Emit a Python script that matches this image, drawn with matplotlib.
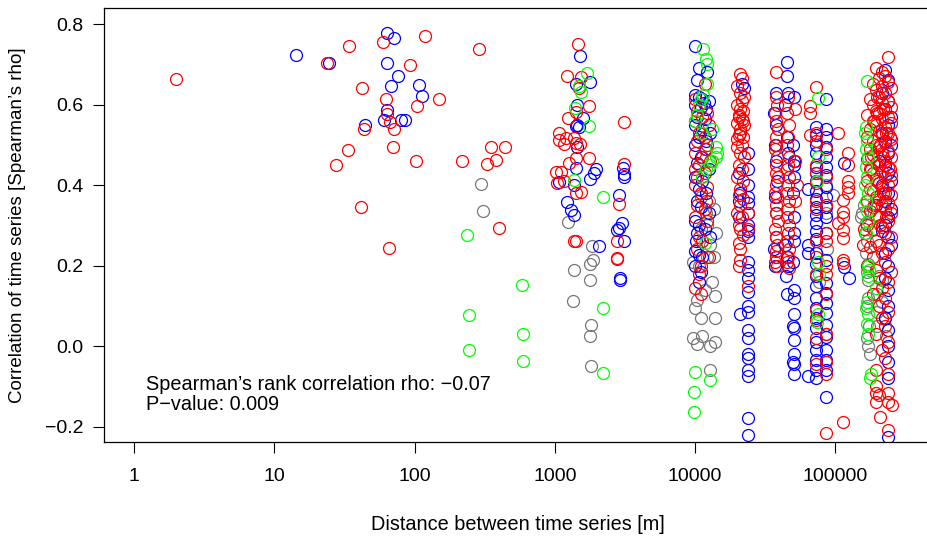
import matplotlib
matplotlib.use("Agg")
import matplotlib.pyplot as plt

plt.rcParams["font.family"] = ["Liberation Sans", "DejaVu Sans"]

# ---- data: distance [m] and Spearman's rho, per colour group ----
# scattered short-distance pairs
red_near_x = [2.0, 23.7, 34, 59.6, 42, 62.6, 63.7, 66.9, 43.6, 71.5, 70, 33.5, 27.5, 41.5, 65.7,
              119, 290, 93, 150, 104, 353, 445, 103, 219, 326, 384, 397]
red_near_y = [0.663, 0.703, 0.745, 0.755, 0.641, 0.614, 0.576, 0.557, 0.539, 0.539, 0.494, 0.487,
              0.45, 0.345, 0.243, 0.77, 0.738, 0.698, 0.614, 0.596, 0.494, 0.494, 0.46, 0.46,
              0.452, 0.462, 0.293]
blue_near_x = [14.2, 24.5, 63.7, 71.5, 63.7, 76, 67.7, 63.7, 60.5, 80, 44, 108, 113, 86]
blue_near_y = [0.723, 0.703, 0.778, 0.765, 0.703, 0.671, 0.646, 0.586, 0.562, 0.562, 0.55, 0.648,
               0.621, 0.562]
green_near_x = [238, 580, 246, 246, 590, 590]
green_near_y = [0.276, 0.152, 0.077, -0.01, 0.03, -0.037]
gray_near_x = [300, 310]
gray_near_y = [0.402, 0.335]

# pairs around 1-3 km
red_km_x = [1459, 1217, 1530, 1478, 1750, 1420, 1235, 1067, 1067, 1200, 1155, 1370, 1420, 1510,
            1420, 1750, 1260, 1013, 1100, 1040, 1155, 1420, 1530, 1370, 1420, 3110, 3110, 2880,
            2800, 2775, 2775]
red_km_y = [0.75, 0.671, 0.668, 0.64, 0.596, 0.581, 0.566, 0.529, 0.512, 0.517, 0.502, 0.517,
            0.504, 0.502, 0.467, 0.467, 0.455, 0.433, 0.433, 0.405, 0.41, 0.38, 0.383, 0.261,
            0.261, 0.556, 0.452, 0.353, 0.261, 0.216, 0.219]
blue_km_x = [1510, 1775, 1420, 1450, 1600, 1420, 1450, 1480, 1450, 1420, 1080, 1380, 1775, 1900,
             1975, 1217, 1310, 1370, 2080, 3050, 3110, 3110, 2880, 3000, 2880, 2800, 3110, 2917,
             2917]
blue_km_y = [0.72, 0.656, 0.65, 0.6, 0.566, 0.547, 0.55, 0.545, 0.494, 0.443, 0.408, 0.40, 0.415,
             0.43, 0.44, 0.357, 0.338, 0.325, 0.248, 0.442, 0.427, 0.42, 0.375, 0.306, 0.293,
             0.288, 0.261, 0.169, 0.164]
green_km_x = [1690, 1478, 1530, 1400, 1750, 1380, 2200, 2200, 2200]
green_km_y = [0.678, 0.645, 0.631, 0.591, 0.547, 0.412, 0.37, 0.094, -0.067]
gray_km_x = [1240, 1840, 1870, 1775, 1365, 1775, 1343, 1800, 1775, 1800]
gray_km_y = [0.308, 0.248, 0.214, 0.204, 0.189, 0.164, 0.112, 0.052, 0.025, -0.05]

# pairs around 10 km
red_10k_x = [11800, 10000, 10700, 12200, 11300, 10000, 12500, 10700, 11800, 10400, 12200, 10000,
             11300, 12800, 10700, 11800, 10400, 10000, 12200, 11000, 10400, 11800, 10000, 12200,
             10700, 11300, 10400, 12500, 11000, 10000, 11000, 10400, 11800, 10000, 12000, 10700]
red_10k_y = [0.65, 0.615, 0.60, 0.58, 0.57, 0.56, 0.55, 0.53, 0.52, 0.51, 0.50, 0.48, 0.47, 0.46,
             0.45, 0.43, 0.42, 0.40, 0.395, 0.38, 0.35, 0.34, 0.32, 0.31, 0.27, 0.26, 0.24, 0.22,
             0.20, 0.145, 0.13, 0.585, 0.49, 0.44, 0.36, 0.18]
blue_10k_x = [10000, 10700, 12200, 10400, 10000, 10700, 11300, 12500, 10000, 11000, 12000, 10400,
              11800, 10000, 11300, 12800, 10700, 10000, 12000, 11000, 10400, 12500, 10000, 11300,
              10700, 12000, 10400, 11000, 12500, 10000, 10700, 11800, 10400, 10000, 10700, 11300,
              10000, 11000, 10700, 11500, 12000, 10200, 12800]
blue_10k_y = [0.745, 0.69, 0.68, 0.66, 0.625, 0.62, 0.615, 0.61, 0.60, 0.595, 0.59, 0.57, 0.565,
              0.55, 0.54, 0.53, 0.52, 0.50, 0.49, 0.47, 0.455, 0.44, 0.42, 0.41, 0.39, 0.38, 0.36,
              0.345, 0.33, 0.31, 0.30, 0.29, 0.28, 0.235, 0.225, 0.22, 0.20, 0.185, 0.16, 0.605,
              0.51, 0.26, 0.27]
green_10k_x = [11400, 12000, 12200, 12200, 11400, 11000, 10700, 10400, 10000, 13300, 11300, 14000,
               14400, 14000, 12800, 13300, 12000, 11300, 11800, 10000, 12800, 9900, 9800]
green_10k_y = [0.737, 0.713, 0.70, 0.65, 0.625, 0.615, 0.60, 0.575, 0.56, 0.54, 0.53, 0.495, 0.48,
               0.47, 0.45, 0.46, 0.44, 0.42, 0.255, -0.065, -0.085, -0.115, -0.165]
gray_10k_x = [11000, 12500, 13600, 12000, 11000, 14000, 12800, 12200, 13600, 9700, 10700, 13300,
              11800, 10400, 13900, 11000, 13900, 9700, 11300, 12800, 13900, 10400, 12800, 10000,
              12200]
gray_10k_y = [0.37, 0.36, 0.34, 0.33, 0.29, 0.28, 0.25, 0.22, 0.22, 0.21, 0.20, 0.16, 0.14, 0.115,
              0.125, 0.07, 0.07, 0.02, 0.025, 0.0, 0.01, 0.005, -0.06, 0.095, 0.30]

# pairs around 20 km
red_20k_x = [21000, 21800, 20000, 21000, 22500, 20000, 21000, 22000, 20500, 21500, 20000, 22500,
             21000, 20500, 22000, 21500, 20000, 21000, 22500, 20500, 21500, 20000, 22000, 21000,
             20500, 22000, 21000, 20000, 21500, 20500, 21000, 22000, 20500, 21000, 21000, 20500,
             24000, 24000, 24000, 21500, 20500, 22000, 21000, 20000]
red_20k_y = [0.675, 0.665, 0.645, 0.63, 0.62, 0.60, 0.59, 0.585, 0.575, 0.565, 0.555, 0.55, 0.54,
             0.525, 0.52, 0.50, 0.495, 0.48, 0.47, 0.45, 0.44, 0.42, 0.41, 0.39, 0.375, 0.365,
             0.35, 0.33, 0.32, 0.30, 0.29, 0.275, 0.255, 0.24, 0.215, 0.20, 0.33, 0.29, 0.15,
             0.61, 0.57, 0.56, 0.53, 0.515]
blue_20k_x = [21800, 22500, 20500, 21000, 20500, 20500, 21000, 24000, 24000, 24000, 24000, 24000,
              24000, 24000, 24000, 24000, 24000, 24000, 24000, 24000, 24000, 24000, 24000, 24000,
              24000, 24000, 24000, 24000, 24000, 24000]
blue_20k_y = [0.65, 0.64, 0.43, 0.38, 0.36, 0.32, 0.08, 0.48, 0.44, 0.40, 0.37, 0.355, 0.33, 0.30,
              0.285, 0.27, 0.21, 0.19, 0.17, 0.135, 0.10, 0.085, 0.04, 0.02, -0.02, -0.03, -0.06,
              -0.075, -0.18, -0.22]

# pairs around 40-50 km
red_40k_x = [38000, 37500, 38500, 37000, 38000, 39000, 37500, 38000, 37000, 38500, 38000, 37500,
             39000, 38000, 37000, 38500, 37500, 38000, 39000, 37000, 38000, 38500, 37500, 38000,
             37000, 38500,
             46000, 45000, 47000, 46000, 45000, 47000, 46000, 45000, 47000, 46000, 45000, 47000,
             46000, 45000, 47000, 46000, 45000, 47000, 46000, 45000, 47000,
             52000, 52000, 53000, 52000]
red_40k_y = [0.68, 0.62, 0.60, 0.58, 0.56, 0.54, 0.52, 0.50, 0.49, 0.47, 0.45, 0.43, 0.42, 0.40,
             0.38, 0.37, 0.35, 0.33, 0.31, 0.29, 0.27, 0.25, 0.235, 0.22, 0.21, 0.20,
             0.62, 0.58, 0.55, 0.52, 0.50, 0.47, 0.45, 0.44, 0.42, 0.40, 0.38, 0.36, 0.34, 0.32,
             0.30, 0.28, 0.26, 0.24, 0.22, 0.21, 0.195,
             0.59, 0.46, 0.40, 0.36]
blue_40k_x = [37500, 36500, 38000, 37000, 37500, 38500, 37000, 38000, 37500, 36500, 38000, 37000,
              45000, 45000, 46000, 44000, 45000, 46000, 44000, 45000, 46000, 44500, 45000,
              51000, 50000, 51000, 50500, 51000, 50000, 51000, 50500, 51000, 50000, 51000, 50500,
              51000, 50000, 51000, 50500, 51000, 50000, 51000, 50500]
blue_40k_y = [0.63, 0.58, 0.55, 0.50, 0.46, 0.41, 0.37, 0.33, 0.27, 0.24, 0.22, 0.20,
              0.705, 0.67, 0.63, 0.60, 0.52, 0.48, 0.25, 0.22, 0.20, 0.175, 0.13,
              0.62, 0.50, 0.46, 0.45, 0.42, 0.38, 0.32, 0.28, 0.26, 0.21, 0.14, 0.12, 0.08, 0.05,
              0.045, 0.015, -0.02, -0.04, -0.045, -0.07]

# pairs around 70-90 km
red_80k_x = [72500, 72500, 72500, 72500, 72500, 72500, 72500, 72500, 72500, 72500, 72500, 72500,
             72500, 72500, 72500, 66000, 66000, 66000,
             85500, 85500, 85500, 85500, 85500, 85500, 85500, 85500, 85500, 85500, 85500, 85500]
red_80k_y = [0.643, 0.53, 0.51, 0.45, 0.43, 0.405, 0.36, 0.34, 0.26, 0.22, 0.18, 0.09, 0.065, 0.02,
             -0.045, 0.596, 0.579, 0.524,
             0.49, 0.42, 0.35, 0.28, 0.26, 0.20, 0.18, 0.13, 0.03, -0.04, -0.07, -0.216]
blue_80k_x = [72500] * 27 + [85500] * 23 + [63500] * 4
blue_80k_y = [0.544, 0.525, 0.50, 0.48, 0.445, 0.43, 0.41, 0.385, 0.365, 0.345, 0.325, 0.305,
              0.285, 0.265, 0.23, 0.205, 0.175, 0.15, 0.12, 0.095, 0.07, 0.045, 0.01, -0.01,
              -0.035, -0.06, -0.08,
              0.614, 0.54, 0.52, 0.495, 0.47, 0.445, 0.425, 0.395, 0.37, 0.345, 0.32, 0.28, 0.214,
              0.156, 0.131, 0.106, 0.081, 0.052, 0.022, -0.01, -0.035, -0.06, -0.126,
              0.39, 0.25, 0.23, -0.075]
green_80k_x = [75000, 75000, 74000, 75000, 76000, 75000, 74000]
green_80k_y = [0.616, 0.47, 0.41, 0.21, 0.18, 0.08, 0.06]
gray_80k_x = [85500, 96000, 85500, 87000, 76000, 85500]
gray_80k_y = [0.40, 0.375, 0.33, 0.24, 0.16, 0.03]

# pairs around 100-130 km
red_120k_x = [104000, 123000, 123000, 123000, 123000, 123000, 113000, 113000, 113000, 113000,
              113000, 104000, 113000, 113000, 113000]
red_120k_y = [0.53, 0.48, 0.45, 0.41, 0.395, 0.38, 0.363, 0.333, 0.32, 0.288, 0.268, 0.306,
              0.214, 0.206, -0.19]
blue_120k_x = [115000, 115000, 125000]
blue_120k_y = [0.455, 0.196, 0.17]

# pairs around 200 km
red_200k_x = [237000, 195000, 215000, 226000, 205000, 237000, 185000, 215000, 250000, 195000,
              226000, 205000, 177000, 237000, 215000, 185000, 250000, 226000, 195000, 205000,
              168000, 237000, 215000, 185000, 250000, 195000, 226000, 177000, 205000, 237000,
              215000, 168000, 250000, 185000, 226000, 195000, 205000, 177000, 237000, 215000,
              185000, 250000, 168000, 226000, 195000, 205000, 237000, 177000, 215000, 185000,
              250000, 226000, 195000, 168000, 205000, 237000, 215000, 177000, 185000, 226000,
              250000, 195000, 205000, 168000, 237000, 215000, 185000, 226000, 177000, 250000,
              195000, 205000, 237000, 168000, 215000, 185000, 226000, 250000, 195000, 205000,
              177000, 237000, 215000, 185000, 226000, 168000, 195000, 250000, 205000, 237000,
              215000, 185000, 226000, 205000, 237000, 215000, 226000, 195000, 237000, 215000,
              226000, 195000, 237000, 195000, 195000, 205000, 195000, 237000, 237000, 255000,
              210000, 237000, 157000, 160000,
              200000, 220000, 190000, 230000, 210000, 180000, 245000, 200000, 220000, 190000,
              230000, 210000, 180000, 245000, 200000, 220000]
red_200k_y = [0.718, 0.69, 0.68, 0.67, 0.665, 0.655, 0.65, 0.645, 0.64, 0.635, 0.63, 0.62, 0.615,
              0.61, 0.605, 0.60, 0.595, 0.59, 0.585, 0.58, 0.575, 0.57, 0.565, 0.56, 0.555, 0.55,
              0.545, 0.54, 0.535, 0.53, 0.525, 0.52, 0.515, 0.51, 0.505, 0.50, 0.495, 0.49, 0.485,
              0.48, 0.475, 0.47, 0.465, 0.46, 0.455, 0.45, 0.445, 0.44, 0.435, 0.43, 0.425, 0.42,
              0.415, 0.41, 0.405, 0.40, 0.395, 0.39, 0.385, 0.38, 0.375, 0.37, 0.365, 0.36, 0.355,
              0.35, 0.345, 0.34, 0.335, 0.33, 0.325, 0.32, 0.31, 0.30, 0.295, 0.29, 0.28, 0.27,
              0.26, 0.25, 0.245, 0.24, 0.23, 0.22, 0.21, 0.20, 0.19, 0.185, 0.17, 0.16, 0.145,
              0.13, 0.12, 0.10, 0.085, 0.07, 0.05, 0.03, 0.01, -0.01, -0.03, -0.06, -0.07, -0.10,
              -0.117, -0.122, -0.139, -0.117, -0.139, -0.146, -0.176, -0.209, 0.25, 0.29,
              0.62, 0.59, 0.56, 0.53, 0.50, 0.47, 0.44, 0.41, 0.38, 0.35, 0.32, 0.30, 0.44, 0.52,
              0.58, 0.47]
blue_200k_x = [226000, 237000, 215000, 237000, 226000, 250000, 237000, 215000, 226000, 250000,
               237000, 205000, 226000, 237000, 250000, 215000, 237000, 226000, 195000, 250000,
               237000, 226000, 215000, 237000, 250000, 226000, 237000, 226000, 237000, 237000,
               226000, 237000, 237000, 237000, 237000, 237000]
blue_200k_y = [0.686, 0.66, 0.63, 0.61, 0.59, 0.57, 0.55, 0.53, 0.51, 0.50, 0.48, 0.46, 0.45,
               0.43, 0.41, 0.40, 0.38, 0.36, 0.35, 0.34, 0.32, 0.30, 0.285, 0.27, 0.25, 0.23,
               0.20, 0.17, 0.14, 0.10, 0.07, 0.04, 0.0, -0.04, -0.08, -0.226]
green_200k_x = [168000, 165000, 162000, 168000, 165000, 170000, 165000, 168000, 162000, 170000,
                165000, 168000, 172000, 165000, 170000, 175000, 172000, 168000, 165000, 170000,
                168000, 172000, 180000, 178000, 195000]
green_200k_y = [0.659, 0.545, 0.53, 0.51, 0.49, 0.47, 0.445, 0.42, 0.40, 0.38, 0.36, 0.335, 0.31,
                0.28, 0.20, 0.19, 0.175, 0.11, 0.095, 0.08, 0.055, 0.03, -0.07, -0.08, 0.145]
gray_200k_x = [160000, 155000, 152000, 165000, 162000, 168000, 165000, 170000, 168000, 172000,
               170000, 168000, 175000, 168000, 172000, 178000, 205000, 215000, 200000, 215000,
               198000, 225000, 200000, 230000]
gray_200k_y = [0.35, 0.33, 0.32, 0.305, 0.28, 0.26, 0.23, 0.205, 0.185, 0.165, 0.12, 0.10, 0.05,
               0.02, 0.0, -0.02, 0.175, 0.165, 0.13, 0.11, 0.085, 0.07, 0.05, 0.025]

x_ticks = [1, 10, 100, 1000, 10000, 100000]
x_tick_labels = ["1", "10", "100", "1000", "10000", "100000"]
y_ticks = [-0.2, 0.0, 0.2, 0.4, 0.6, 0.8]
y_tick_labels = ["\u22120.2", "0.0", "0.2", "0.4", "0.6", "0.8"]

groups = [
    ("#777777", gray_near_x + gray_km_x + gray_10k_x + gray_80k_x + gray_200k_x,
     gray_near_y + gray_km_y + gray_10k_y + gray_80k_y + gray_200k_y),
    ("#0000FF", blue_near_x + blue_km_x + blue_10k_x + blue_20k_x + blue_40k_x + blue_80k_x
     + blue_120k_x + blue_200k_x,
     blue_near_y + blue_km_y + blue_10k_y + blue_20k_y + blue_40k_y + blue_80k_y
     + blue_120k_y + blue_200k_y),
    ("#FF0000", red_near_x + red_km_x + red_10k_x + red_20k_x + red_40k_x + red_80k_x
     + red_120k_x + red_200k_x,
     red_near_y + red_km_y + red_10k_y + red_20k_y + red_40k_y + red_80k_y
     + red_120k_y + red_200k_y),
    ("#00FF00", green_near_x + green_km_x + green_10k_x + green_80k_x + green_200k_x,
     green_near_y + green_km_y + green_10k_y + green_80k_y + green_200k_y),
]

fig = plt.figure(figsize=(9.28, 5.41), dpi=100)
ax = fig.add_axes([104 / 928, 99 / 541, 828 / 928, 434 / 541])

for color, xs, ys in groups:
    ax.plot(xs, ys, linestyle="none", marker="o", markersize=8.6, markerfacecolor="none",
            markeredgecolor=color, markeredgewidth=0.9)

ax.set_xscale("log")
ax.set_xlim(0.61, 10 ** 5.69)
ax.set_ylim(-0.2385, 0.84)
ax.set_xticks(x_ticks)
ax.set_xticklabels(x_tick_labels)
ax.minorticks_off()
ax.set_yticks(y_ticks)
ax.set_yticklabels(y_tick_labels)
ax.tick_params(axis="both", direction="out", length=8, width=0.8, labelsize=14)
ax.tick_params(axis="x", pad=11)
ax.tick_params(axis="y", pad=7)
ax.spines["right"].set_visible(False)
for s in ("left", "top", "bottom"):
    ax.spines[s].set_linewidth(0.9)

fig.text(146 / 928, 1 - 384 / 541, "Spearman\u2019s rank correlation rho: \u22120.07",
         fontsize=14.3, va="center", ha="left")
fig.text(146 / 928, 1 - 405 / 541, "P\u2212value: 0.009", fontsize=14.3, va="center", ha="left")

fig.text(518 / 928, 1 - 525 / 541, "Distance between time series [m]", fontsize=14.3,
         ha="center", va="center")
fig.text(18 / 928, 1 - 225 / 541, "Correlation of time series [Spearman\u2019s rho]",
         fontsize=13.5, ha="center", va="center", rotation=90)

fig.savefig("out.png", dpi=100)
